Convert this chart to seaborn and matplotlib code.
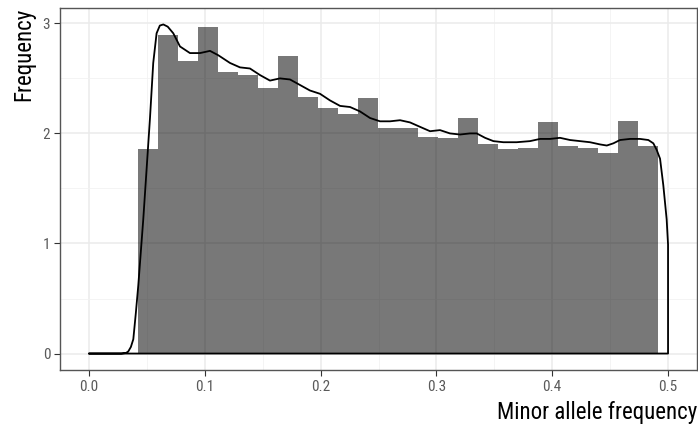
import numpy as np
import pandas as pd
import matplotlib
matplotlib.use("Agg")
import matplotlib.pyplot as plt
import seaborn as sns
from matplotlib.ticker import MultipleLocator

# ---- data ----
bin_start = 0.0423
bin_width = 0.01727
bar_heights = [1.86, 2.89, 2.66, 2.97, 2.56, 2.53, 2.41, 2.70, 2.33, 2.23,
               2.18, 2.32, 2.05, 2.05, 1.97, 1.96, 2.14, 1.90, 1.86, 1.87,
               2.10, 1.89, 1.87, 1.82, 2.11, 1.89]

dens_x = [0.0, 0.028, 0.032, 0.034, 0.0362, 0.0383, 0.0405, 0.0426, 0.0469,
          0.0527, 0.0555, 0.0584,
          0.0612, 0.0642, 0.0680, 0.0728, 0.0786, 0.0872, 0.0959, 0.1045,
          0.1117, 0.1218, 0.1304, 0.1390, 0.1477, 0.1563, 0.1649, 0.1736,
          0.1822, 0.1908, 0.1995, 0.2081, 0.2168, 0.2254, 0.2340, 0.2427,
          0.2513, 0.2600, 0.2686, 0.2772, 0.2858, 0.2945, 0.3031, 0.3117,
          0.3204, 0.3290, 0.3348, 0.3420, 0.3492, 0.3578, 0.3693, 0.3808,
          0.3895, 0.3981, 0.4067, 0.4154, 0.4240, 0.4326, 0.4413, 0.4471,
          0.4528, 0.4585, 0.4672, 0.4758, 0.4830, 0.4873, 0.4902, 0.4931,
          0.4959, 0.4988, 0.5, 0.5, 0.0]
dens_y = [0.0, 0.0, 0.005, 0.02, 0.06, 0.13, 0.37, 0.62, 1.22,
          2.14, 2.64, 2.91,
          2.98, 2.99, 2.97, 2.91, 2.79, 2.73, 2.73, 2.75,
          2.71, 2.64, 2.60, 2.59, 2.53, 2.48, 2.50, 2.49,
          2.44, 2.39, 2.36, 2.30, 2.25, 2.24, 2.20, 2.14,
          2.11, 2.11, 2.12, 2.10, 2.06, 2.02, 2.03, 2.00,
          1.99, 2.00, 2.00, 1.96, 1.93, 1.92, 1.92, 1.93,
          1.95, 1.95, 1.96, 1.94, 1.93, 1.92, 1.90, 1.89,
          1.91, 1.94, 1.95, 1.95, 1.94, 1.91, 1.85, 1.77,
          1.53, 1.22, 0.99, 0.0, 0.0]

x_ticks = [0.0, 0.1, 0.2, 0.3, 0.4, 0.5]
x_tick_labels = ["0.0", "0.1", "0.2", "0.3", "0.4", "0.5"]
y_ticks = [0, 1, 2, 3]
y_tick_labels = ["0", "1", "2", "3"]

edges = [bin_start + i * bin_width for i in range(len(bar_heights) + 1)]
centers = [(edges[i] + edges[i + 1]) / 2 for i in range(len(bar_heights))]
hist_df = pd.DataFrame({"maf": centers, "w": bar_heights})
dens_df = pd.DataFrame({"x": dens_x, "y": dens_y})

# ---- style ----
sns.set_theme(style="white")
plt.rcParams["font.family"] = ["Liberation Sans Narrow", "Roboto Condensed", "Roboto", "DejaVu Sans"]

fig = plt.figure(figsize=(6.98, 4.28), dpi=100)
ax = fig.add_axes([60 / 698, 1 - 370 / 428, 637 / 698, 362 / 428])

ax.set_axisbelow(True)
ax.xaxis.set_minor_locator(MultipleLocator(0.05))
ax.yaxis.set_minor_locator(MultipleLocator(0.5))
ax.grid(which="major", color="#EBEBEB", linewidth=1.1)
ax.grid(which="minor", color="#F2F2F2", linewidth=0.6)

sns.histplot(data=hist_df, x="maf", weights="w", bins=edges, stat="count",
             color="black", alpha=0.53, edgecolor=None, linewidth=0, ax=ax)
sns.lineplot(data=dens_df, x="x", y="y", sort=False, estimator=None,
             color="black", linewidth=1.3, ax=ax)

ax.set_xlim(-0.025, 0.525)
ax.set_ylim(-0.1495, 3.1395)
ax.set_xticks(x_ticks)
ax.set_xticklabels(x_tick_labels)
ax.set_yticks(y_ticks)
ax.set_yticklabels(y_tick_labels)
ax.tick_params(axis="both", which="major", length=4, width=0.8, color="#333333",
               labelcolor="#5A5A5A", labelsize=11, pad=3, bottom=True, left=True)
ax.tick_params(axis="both", which="minor", length=0)

for s in ax.spines.values():
    s.set_color("#555555")
    s.set_linewidth(1.0)

ax.set_xlabel("Minor allele frequency", fontsize=16.5, color="black", loc="right", labelpad=5)
ax.set_ylabel("Frequency", fontsize=16.5, color="black", loc="top", labelpad=5)

fig.savefig("out.png", dpi=100)
